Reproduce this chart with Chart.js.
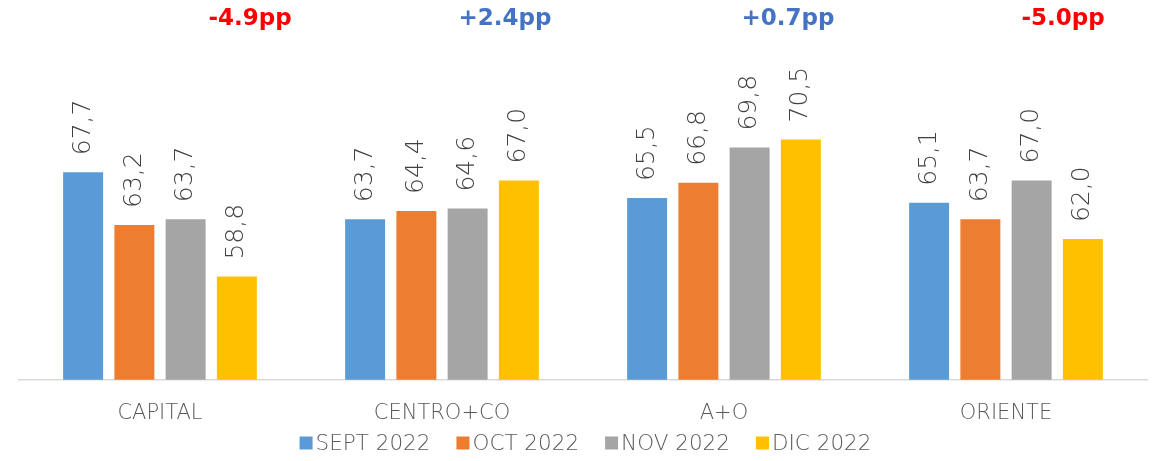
<!DOCTYPE html>
<html>
<head>
<meta charset="utf-8">
<script src="https://cdn.jsdelivr.net/npm/chart.js@4/dist/chart.umd.min.js"></script>
<style>
  html, body { margin: 0; padding: 0; background: #fff; }
  #wrap { width: 1155px; height: 461px; }
</style>
</head>
<body>
<div id="wrap"><canvas id="bars"></canvas></div>
<script>
const regions = ['CAPITAL', 'CENTRO+CO', 'A+O', 'ORIENTE'];
const sept2022 = [67.7, 63.7, 65.5, 65.1];
const oct2022 = [63.2, 64.4, 66.8, 63.7];
const nov2022 = [63.7, 64.6, 69.8, 67.0];
const dic2022 = [58.8, 67.0, 70.5, 62.0];
const deltas = ['-4.9pp', '+2.4pp', '+0.7pp', '-5.0pp'];

// where the delta boxes sit, relative to each group centre
const deltaOffsets = [90, 63, 64, 57];

const FONT = '"DejaVu Sans", sans-serif';
const TEXT = '#595959';

// rotated value labels above each bar
const valueLabels = {
  id: 'valueLabels',
  afterDatasetsDraw(chart) {
    const ctx = chart.ctx;
    ctx.save();
    ctx.font = '200 25px ' + FONT;
    ctx.fillStyle = '#404040';
    ctx.textAlign = 'left';
    ctx.textBaseline = 'middle';
    chart.data.datasets.forEach((ds, i) => {
      chart.getDatasetMeta(i).data.forEach((bar, j) => {
        ctx.save();
        ctx.translate(bar.x, bar.y - 17);
        ctx.rotate(-Math.PI / 2);
        ctx.fillText(ds.data[j].toFixed(1).replace('.', ','), 0, 0);
        ctx.restore();
      });
    });
    ctx.restore();
  }
};

// change in percentage points over each group
const deltaLabels = {
  id: 'deltaLabels',
  afterDraw(chart) {
    const ctx = chart.ctx;
    const x = chart.scales.x;
    ctx.save();
    ctx.font = 'bold 23px ' + FONT;
    ctx.textAlign = 'center';
    ctx.textBaseline = 'middle';
    deltas.forEach((d, i) => {
      ctx.fillStyle = d.startsWith('-') ? '#FF0000' : '#4472C4';
      ctx.fillText(d, x.getPixelForValue(i) + deltaOffsets[i], 19);
    });
    ctx.restore();
  }
};

// legend drawn by hand so it can sit right at the bottom
const bottomLegend = {
  id: 'bottomLegend',
  afterDraw(chart) {
    const ctx = chart.ctx;
    const box = 13, gap = 3, spacing = 26;
    ctx.save();
    ctx.font = '200 21.5px ' + FONT;
    ctx.textBaseline = 'middle';
    ctx.textAlign = 'left';
    const items = chart.data.datasets.map(ds => ({
      label: ds.label, color: ds.backgroundColor,
      w: box + gap + ctx.measureText(ds.label).width,
    }));
    const total = items.reduce((s, it) => s + it.w, 0) + spacing * (items.length - 1);
    let cx = chart.width / 2 + 8 - total / 2;
    const y = 443;
    items.forEach(it => {
      ctx.fillStyle = it.color;
      ctx.fillRect(cx, y - box / 2, box, box);
      ctx.fillStyle = TEXT;
      ctx.fillText(it.label, cx + box + gap, y + 1);
      cx += it.w + spacing;
    });
    ctx.restore();
  }
};

new Chart(document.getElementById('bars'), {
  type: 'bar',
  data: {
    labels: regions,
    datasets: [
      { label: 'SEPT 2022', data: sept2022, backgroundColor: '#5B9BD5' },
      { label: 'OCT 2022', data: oct2022, backgroundColor: '#ED7D31' },
      { label: 'NOV 2022', data: nov2022, backgroundColor: '#A5A5A5' },
      { label: 'DIC 2022', data: dic2022, backgroundColor: '#FFC000' },
    ],
  },
  options: {
    responsive: true,
    maintainAspectRatio: false,
    animation: false,
    categoryPercentage: 0.727,
    barPercentage: 0.78,
    layout: { padding: { top: 28, left: 19, right: 8, bottom: 22 } },
    plugins: {
      tooltip: { enabled: false },
      legend: { display: false },
    },
    scales: {
      x: {
        grid: { display: false },
        border: { color: '#D9D9D9', width: 1.5 },
        ticks: { color: TEXT, font: { family: FONT, size: 21, weight: '200' }, padding: 13 },
      },
      y: {
        display: false,
        min: 50,
        max: 80,
      },
    },
  },
  plugins: [valueLabels, deltaLabels, bottomLegend],
});
</script>
</body>
</html>
